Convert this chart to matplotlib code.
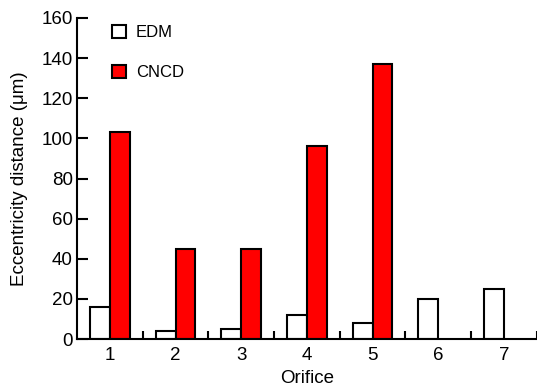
import matplotlib
matplotlib.use("Agg")
import matplotlib.pyplot as plt
import numpy as np

plt.rcParams['font.family'] = ['Liberation Sans', 'DejaVu Sans']

orifices = ["1", "2", "3", "4", "5", "6", "7"]
edm = [16, 4, 5, 12, 8, 20, 25]
cncd = [103, 45, 45, 96, 137, np.nan, np.nan]

fig = plt.figure(figsize=(5.37, 3.87), dpi=100)
ax = fig.add_axes([0.1434, 0.124, 0.856, 0.8295])

x = np.arange(1, len(orifices) + 1)
w = 0.3
ax.bar(x - w/2, edm, width=w, color='white', edgecolor='black', linewidth=1.5, label='EDM')
ax.bar(x + w/2, cncd, width=w, color='#ff0000', edgecolor='black', linewidth=1.5, label='CNCD')

ax.set_xlim(0.5, 7.5)
ax.set_ylim(0, 160)
ax.set_yticks(np.arange(0, 161, 20))
ax.set_xticks(x)
ax.set_xticklabels(orifices)
ax.set_xticks(np.arange(1.5, 7.6, 1), minor=True)
ax.tick_params(axis='x', which='major', length=0, labelsize=13.5, pad=6)
ax.tick_params(axis='x', which='minor', direction='in', length=6, width=1.5)
ax.tick_params(axis='y', direction='in', length=8, width=1.5, labelsize=13.5, pad=3)
for s in ['top', 'right']:
    ax.spines[s].set_visible(False)
for s in ['left', 'bottom']:
    ax.spines[s].set_linewidth(1.5)

ax.set_xlabel('Orifice', fontsize=13.5, labelpad=4)
ax.set_ylabel('Eccentricity distance (μm)', fontsize=13.5, labelpad=10)

leg = ax.legend(loc='upper left', bbox_to_anchor=(0.043, 1.025), frameon=False,
                fontsize=12, labelspacing=1.45, handlelength=0.85, handleheight=0.85,
                handletextpad=0.6)

fig.savefig('out.png', dpi=100)
